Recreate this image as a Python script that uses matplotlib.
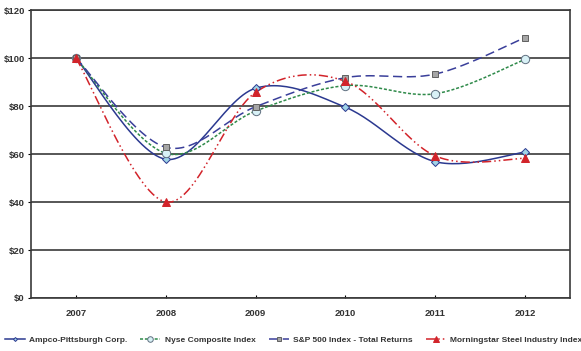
import numpy as np
import matplotlib.pyplot as plt
from matplotlib.lines import Line2D
from matplotlib.ticker import MultipleLocator, FuncFormatter

plt.rcParams['font.family'] = ['Liberation Sans', 'DejaVu Sans']

years = ["2007", "2008", "2009", "2010", "2011", "2012"]
ampco = [100, 57.8, 87.4, 79.5, 56.8, 60.8]
nyse = [100, 60.3, 77.9, 88.5, 85.1, 99.4]
sp500 = [100, 62.8, 79.7, 91.8, 93.3, 108.5]
steel = [100, 40.0, 85.7, 90.3, 59.2, 58.2]


def smooth(y, n=30):
    # Excel-like smoothed line: cubic Bezier with Catmull-Rom control points
    x = np.arange(len(y), dtype=float)
    y = np.asarray(y, dtype=float)
    xs, ys = [], []
    for i in range(len(y) - 1):
        x0, y0 = x[max(i - 1, 0)], y[max(i - 1, 0)]
        x3, y3 = x[min(i + 2, len(y) - 1)], y[min(i + 2, len(y) - 1)]
        p1 = np.array([x[i], y[i]])
        p2 = np.array([x[i + 1], y[i + 1]])
        c1 = p1 + (p2 - np.array([x0, y0])) / 6
        c2 = p2 - (np.array([x3, y3]) - p1) / 6
        t = np.linspace(0, 1, n)[:, None]
        pts = ((1 - t) ** 3 * p1 + 3 * (1 - t) ** 2 * t * c1
               + 3 * (1 - t) * t ** 2 * c2 + t ** 3 * p2)
        xs.extend(pts[:, 0])
        ys.extend(pts[:, 1])
    return xs, ys


series = [
    ("Ampco-Pittsburgh Corp.", ampco, "#2b3990", "-", "D", "#9fd3e6", "#2b3990", 4),
    ("Nyse Composite Index", nyse, "#2f8a4a", (0, (2, 1.2)), "o", "#d8f1f6", "#607080", 6),
    ("S&P 500 Index - Total Returns", sp500, "#3a3f9a", (0, (6, 3)), "s", "#a6a6a6", "#606060", 5),
    ("Morningstar Steel Industry Index", steel, "#d2232a", (0, (6, 2, 1, 2, 1, 2)), "^", "#d2232a", "#d2232a", 6),
]

fig = plt.figure(figsize=(5.81, 3.51), dpi=100)
ax = fig.add_axes([31 / 581, 1 - 298 / 351, (570 - 31) / 581, (298 - 10) / 351])

handles = []
for label, vals, color, ls, marker, mfc, mec, ms in series:
    sx, sy = smooth(vals)
    ax.plot(sx, sy, color=color, linestyle=ls, linewidth=1.1, zorder=3)
    ax.plot(range(len(vals)), vals, linestyle="none", marker=marker, markersize=ms,
            markerfacecolor=mfc, markeredgecolor=mec, markeredgewidth=0.7, zorder=4)
    handles.append(Line2D([], [], color=color, linestyle=ls, linewidth=1.1, marker=marker,
                          markersize=ms - 2, markerfacecolor=mfc, markeredgecolor=mec,
                          markeredgewidth=0.7, label=label))

ax.set_xlim(-0.5, len(years) - 0.5)
ax.set_ylim(0, 120)
ax.set_xticks(range(len(years)))
ax.set_xticklabels(years, fontsize=6.8, fontweight="bold", color="#333333")
ax.yaxis.set_major_locator(MultipleLocator(20))
ax.yaxis.set_major_formatter(FuncFormatter(lambda v, p: f"${v:.0f}"))
for t in ax.get_yticklabels():
    t.set_fontsize(6.8)
    t.set_fontweight("bold")
    t.set_color("#333333")
ax.tick_params(axis="x", direction="in", length=2.5, width=0.8, pad=8)
ax.tick_params(axis="y", direction="out", length=2.5, width=0.8, pad=2)
ax.grid(axis="y", color="#3a3a3a", linewidth=1.2, zorder=1)
ax.set_axisbelow(True)
for side in ["left", "right", "bottom", "top"]:
    ax.spines[side].set_color("#3a3a3a")
    ax.spines[side].set_linewidth(1.2)

fig.legend(handles=handles, loc="center", bbox_to_anchor=(0.505, 1 - 340 / 351), ncol=4,
           frameon=False, prop={"size": 6, "weight": "bold"}, handlelength=2.4,
           columnspacing=1.6, handletextpad=0.5, labelcolor="#333333")

plt.savefig("out.png", dpi=100)
